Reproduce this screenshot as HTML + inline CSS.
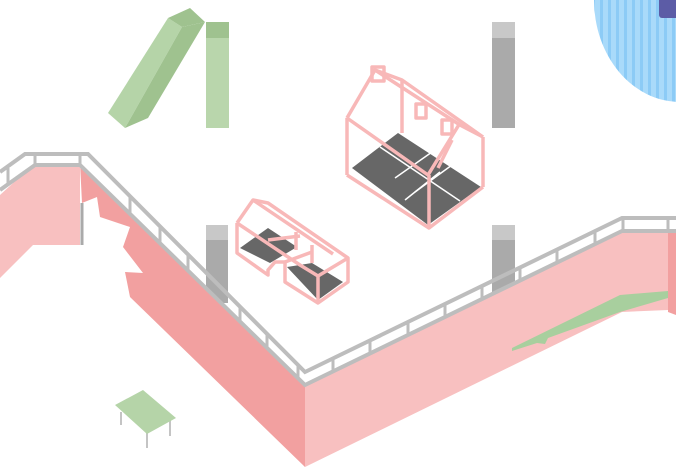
<!DOCTYPE html>
<html><head><meta charset="utf-8"><style>html,body{margin:0;padding:0;background:#fff}svg{display:block}</style></head>
<body>
<svg width="676" height="470" viewBox="0 0 676 470" xmlns="http://www.w3.org/2000/svg">
<defs>
<pattern id="st" width="8" height="10" patternUnits="userSpaceOnUse"><rect width="8" height="10" fill="#a9dafa"/><rect width="3" height="10" fill="#8ccbf6"/></pattern>
</defs>
<ellipse cx="680" cy="0" rx="86" ry="102" fill="url(#st)"/>
<rect x="659" y="-4" width="20" height="22" rx="3" fill="#5c5ca6"/>

<polygon points="108,113 168,18 182,27 125,128" fill="#b5d4a8"/>
<polygon points="168,18 190,8 205,22 182,27" fill="#9fc28f"/>
<polygon points="182,27 205,22 148,118 125,128" fill="#9fc28f"/>
<rect x="206" y="22" width="23" height="106" fill="#b9d6ac"/>
<rect x="206" y="22" width="23" height="16" fill="#9fc28f"/>

<rect x="492" y="22" width="23" height="106" fill="#aaaaaa"/>
<rect x="492" y="22" width="23" height="16" fill="#c8c8c8"/>
<rect x="206" y="225" width="22" height="78" fill="#aaaaaa"/>
<rect x="206" y="225" width="22" height="15" fill="#c8c8c8"/>
<rect x="492" y="225" width="23" height="68" fill="#aaaaaa"/>
<rect x="492" y="225" width="23" height="15" fill="#c8c8c8"/>

<polygon points="0,195 35,163 80,163 80,245 33,245 0,278" fill="#f8c0c0"/>
<polygon points="80,163 305,385 305,467 130,297 125,272 143,273 123,247 130,227 100,217 97,197 82,203" fill="#f2a0a0"/>
<line x1="82" y1="203" x2="82" y2="245" stroke="#aaa" stroke-width="3"/>
<polygon points="305,385 622,230 668,230 668,310 622,312 305,467" fill="#f8c0c0"/>
<polygon points="668,230 676,232 676,315 668,312" fill="#f2a0a0"/>
<polygon points="512,348 620,295 668,291 668,298 620,312 548,338 545,344 537,343 512,351" fill="#a8cf9e"/>

<g fill="none" stroke="#bdbdbd" stroke-width="4" stroke-linejoin="miter">
<polyline points="0,172 25,154 88,154 305,372 622,218 676,218"/>
<polyline points="0,190 35,165 80,165 305,385 622,231 676,231"/>
</g>
<g stroke="#bdbdbd" stroke-width="3">
<line x1="8" y1="168" x2="8" y2="184"/><line x1="35" y1="154" x2="35" y2="165"/><line x1="80" y1="154" x2="80" y2="165"/>
<line x1="130" y1="196" x2="130" y2="215"/><line x1="160" y1="226" x2="160" y2="244"/><line x1="188" y1="254" x2="188" y2="272"/>
<line x1="240" y1="306" x2="240" y2="322"/><line x1="267" y1="334" x2="267" y2="348"/><line x1="298" y1="364" x2="298" y2="378"/>
<line x1="333" y1="358" x2="333" y2="371"/><line x1="370" y1="340" x2="370" y2="353"/><line x1="408" y1="321" x2="408" y2="335"/>
<line x1="445" y1="303" x2="445" y2="317"/><line x1="482" y1="285" x2="482" y2="299"/><line x1="520" y1="267" x2="520" y2="281"/>
<line x1="557" y1="250" x2="557" y2="264"/><line x1="595" y1="231" x2="595" y2="245"/><line x1="623" y1="218" x2="623" y2="231"/><line x1="668" y1="218" x2="668" y2="231"/>
</g>

<g stroke="#c4c4c4" stroke-width="2"><line x1="121" y1="412" x2="121" y2="425"/><line x1="147" y1="432" x2="147" y2="448"/><line x1="170" y1="420" x2="170" y2="436"/></g>
<polygon points="115,405 143,390 176,418 147,434" fill="#b5d4a8"/>

<polygon points="352,168 398,133 481,187 428,225" fill="#676767"/>
<g stroke="#fff" stroke-width="1.5"><line x1="380" y1="147" x2="460" y2="201"/><line x1="395" y1="178" x2="432" y2="152"/><line x1="415" y1="192" x2="452" y2="165"/><line x1="405" y1="200" x2="440" y2="172"/></g>
<g fill="none" stroke="#f8b8b8" stroke-width="3.5" stroke-linejoin="round">
<polyline points="347,175 429,228 483,187"/>
<line x1="347" y1="118" x2="347" y2="175"/><line x1="429" y1="175" x2="429" y2="228"/><line x1="483" y1="137" x2="483" y2="187"/><line x1="402" y1="80" x2="402" y2="133"/>
<polyline points="347,118 428,175 460,123"/>
<polyline points="347,118 375,70 402,80 483,137"/>
<line x1="375" y1="70" x2="460" y2="125"/>
<line x1="460" y1="125" x2="483" y2="137"/>
<line x1="452" y1="140" x2="438" y2="168"/>
<rect x="372" y="67" width="12" height="14"/><rect x="416" y="104" width="10" height="14"/><rect x="442" y="120" width="10" height="14"/>
</g>

<polygon points="240,248 268,228 297,247 270,263" fill="#676767"/>
<polygon points="287,267 312,263 343,282 318,300" fill="#676767"/>
<g fill="none" stroke="#f8b8b8" stroke-width="3.5" stroke-linejoin="round">
<polyline points="237,223 253,200 268,203 348,258 348,282 318,303 285,282 285,262 275,262 268,270 268,275 237,253 237,223"/>
<polyline points="237,223 300,265 318,276 348,258"/>
<line x1="318" y1="276" x2="318" y2="303"/>
<line x1="253" y1="200" x2="333" y2="254"/>
<line x1="296" y1="232" x2="296" y2="250"/><line x1="268" y1="240" x2="300" y2="236"/>
<line x1="312" y1="245" x2="312" y2="263"/><line x1="285" y1="262" x2="312" y2="252"/>
</g>
</svg>
</body></html>
